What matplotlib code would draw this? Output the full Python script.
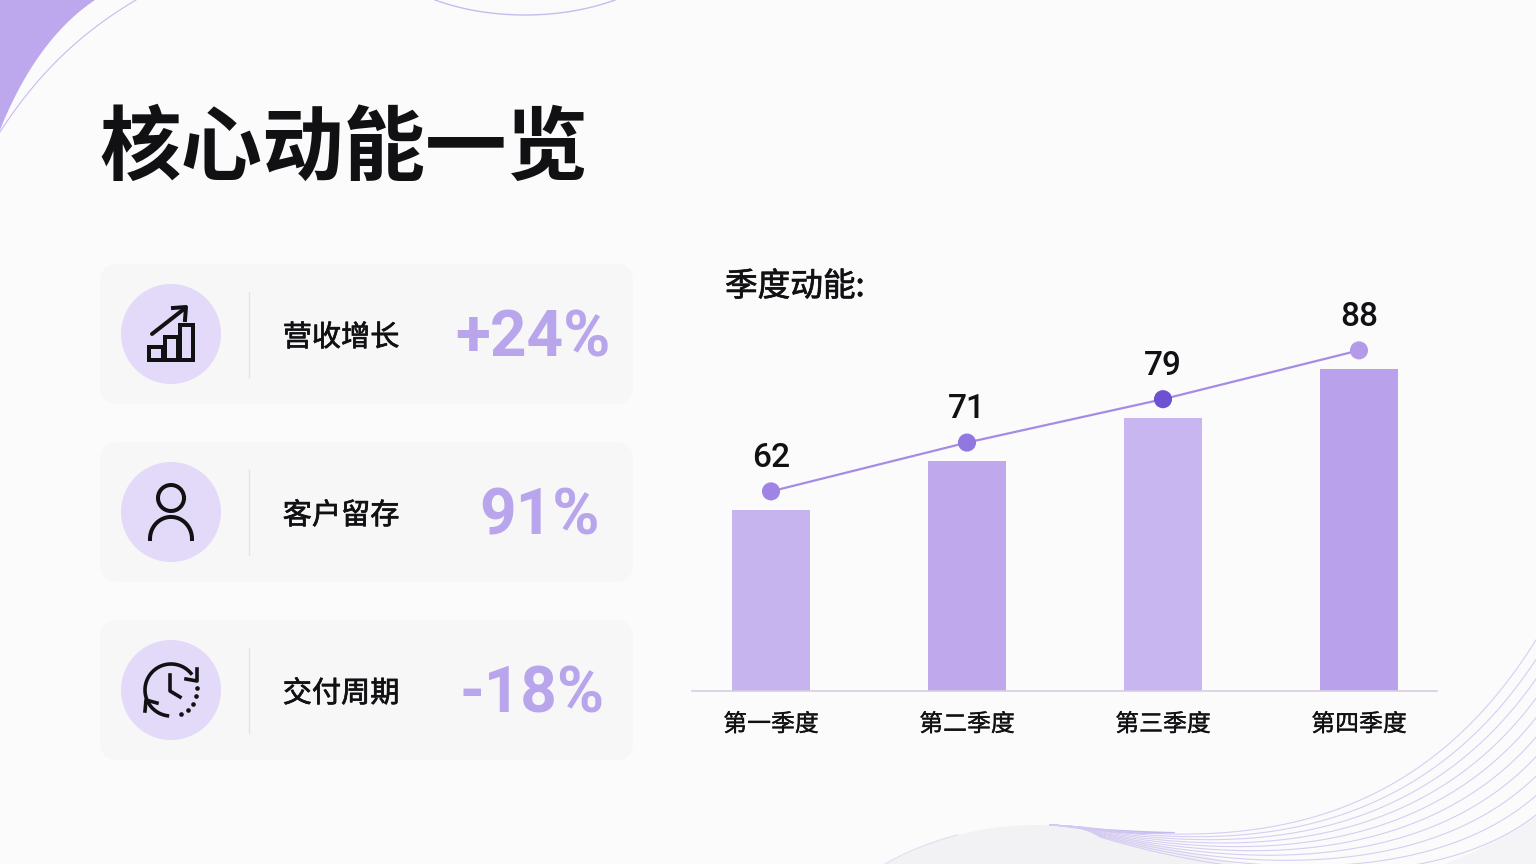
import numpy as np
import matplotlib
matplotlib.use('Agg')
import matplotlib.pyplot as plt
import matplotlib.patheffects as pe
from matplotlib.patches import FancyBboxPatch, Circle, Rectangle
from matplotlib.transforms import ScaledTranslation

plt.rcParams['font.family'] = ['Noto Sans CJK SC', 'DejaVu Sans']

# chart data
quarters = ['第一季度', '第二季度', '第三季度', '第四季度']
momentum = [62, 71, 79, 88]
bar_colors = ['#C6B4EF', '#BFA9EC', '#C7B6F0', '#B9A1EB']
dot_colors = ['#9F84E6', '#9078E0', '#6E50D2', '#B49BE9']

# cards
card_labels = ['营收增长', '客户留存', '交付周期']
card_values = ['+24%', '91%', '-18%']
value_centers = [533, 539, 532]
card_tops = [264, 442, 620]

title = '核心动能一览'
chart_title = '季度动能:'

PURPLE = '#B9A5EC'
INK = '#111114'
px = 0.72  # one pixel in points at dpi 100
heavier = [pe.withStroke(linewidth=0.5, foreground=INK)]
slightly = [pe.withStroke(linewidth=0.25, foreground=INK)]

fig = plt.figure(figsize=(15.36, 8.64), dpi=100, facecolor='#FBFBFC')

# background layer in pixel coordinates
bg = fig.add_axes([0, 0, 1, 1])
bg.set_xlim(0, 1536)
bg.set_ylim(864, 0)
bg.axis('off')


def bezier(p0, p1, p2, p3, n=80):
    t = np.linspace(0, 1, n)[:, None]
    p0, p1, p2, p3 = map(np.array, (p0, p1, p2, p3))
    return (1-t)**3*p0 + 3*(1-t)**2*t*p1 + 3*(1-t)*t**2*p2 + t**3*p3


def arc(cx, cy, r, a0, a1, n=80):
    a = np.radians(np.linspace(a0, a1, n))
    return cx + r*np.cos(a), cy - r*np.sin(a)


# corner decoration, top left
edge = bezier((0, 130), (20, 80), (50, 30), (95, 0))
corner = np.vstack([[0, 0], edge])
bg.fill(corner[:, 0], corner[:, 1], color='#BDA8EE', lw=0)
curve = bezier((0, 132), (40, 70), (85, 30), (136, 0))
bg.plot(curve[:, 0], curve[:, 1], color='#C9BAF0', lw=0.8)
curve = bezier((435, 0), (490, 20), (560, 20), (615, 0))
bg.plot(curve[:, 0], curve[:, 1], color='#C9BAF0', lw=1)

# corner decoration, bottom right
hill = np.vstack([bezier((885, 864), (930, 838), (985, 825), (1039, 825)),
                  bezier((1039, 825), (1080, 826), (1130, 838), (1236, 864))])
bg.fill(hill[:, 0], hill[:, 1], color='#F2F2F4', lw=0)
low = np.vstack([[1536, 864], bezier((1445, 864), (1480, 850), (1510, 835), (1536, 817))])
bg.fill(low[:, 0], low[:, 1], color='#F4F4F6', lw=0)
bg.plot(hill[:40, 0], hill[:40, 1], color='#E2DCF4', lw=0.8)
wedge = np.vstack([bezier((1050, 825), (1090, 828), (1130, 831), (1175, 832)),
                   bezier((1175, 833), (1140, 836), (1100, 832), (1050, 825))])
bg.fill(wedge[:, 0], wedge[:, 1], color='#C9B8F1', lw=0)

n_lines = 10
for k in range(n_lines):
    s = k/(n_lines-1)
    start = np.array((1100, 829 + 8*s))
    c1 = np.array((1280 - 20*s, 850 + 35*s))
    c2 = np.array((1430 + 10*s, 810 + 80*s))
    end = np.array((1536, 640 + 175*s))
    line = np.vstack([bezier((1050, 825), (1070, 826), (1085, 827), start, n=20),
                      bezier(start, c1, c2, end)])
    bg.plot(line[:, 0], line[:, 1], color='#D3C9F1', lw=0.8, alpha=0.9)

# metric cards
for top, label, value, vx in zip(card_tops, card_labels, card_values, value_centers):
    bg.add_patch(FancyBboxPatch((100+18, top+18), 533-36, 140-36,
                                boxstyle='round,pad=18,rounding_size=18',
                                fc='#F7F7F8', ec='none'))
    cy = top + 70
    bg.add_patch(Circle((171, cy), 50, fc='#E2DAF8', ec='none'))
    bg.plot([249, 249], [cy-42, cy+43], color='#E3E3E7', lw=1)
    bg.text(341, cy+4, label, ha='center', va='center', fontsize=21, color=INK,
            path_effects=heavier)
    bg.text(vx, cy+5, value, ha='center', va='center', fontsize=46, color=PURPLE,
            family=['Roboto', 'DejaVu Sans'], fontweight='bold')

bg.text(99, 150, title, ha='left', va='center', fontsize=58.7, color=INK, fontweight='black')
bg.text(725, 287, chart_title, ha='left', va='center', fontsize=23.5, color=INK,
        path_effects=heavier)

# icon: rising bars
for x0, x1, y0 in [(149, 163, 347), (165, 178, 337), (180, 193, 325)]:
    bg.add_patch(Rectangle((x0, y0), x1-x0, 360-y0, fc='none', ec=INK, lw=4*px))
bg.plot([152, 184], [334, 309], color=INK, lw=4*px, solid_capstyle='round')
bg.plot([173, 186, 185], [308, 307, 320], color=INK, lw=4*px)

# icon: person
x, y = arc(171, 498, 13, 0, 360)
bg.plot(x, y, color=INK, lw=4*px)
x, y = arc(171, 539, 21, 0, 180)
bg.plot(x, 539 + (y-539)*1.05, color=INK, lw=4*px)

# icon: clock with return arrow
x, y = arc(171, 690, 26, 40, 262)
bg.plot(x, y, color=INK, lw=3.6*px)
dot_a = np.radians([-68, -50, -32, -14, 4])
bg.scatter(171+26*np.cos(dot_a), 690-26*np.sin(dot_a), s=11, color=INK, lw=0)
bg.plot([170, 170, 180], [675, 691, 697], color=INK, lw=3.6*px)
bg.plot([186, 197, 197], [679, 681, 669], color=INK, lw=3.6*px)
bg.plot([145, 146, 157], [711, 700, 703], color=INK, lw=3.6*px)

# chart area: base at y=691, one value unit is 5.42 px
ax = fig.add_axes([692/1536, 1-691/864, 745/1536, 391/864])
ax.patch.set_alpha(0)
xs = np.arange(len(quarters))
ax.bar(xs, momentum, width=0.393, color=bar_colors, zorder=2)
ax.set_xlim(-0.403, 3.398)
ax.set_ylim(28.6, 100.7)
ax.set_yticks([])
ax.set_xticks(xs, quarters, fontsize=17.2, color=INK, path_effects=slightly)
ax.tick_params(axis='x', length=0, pad=16)
for side in ['top', 'left', 'right']:
    ax.spines[side].set_visible(False)
ax.spines['bottom'].set_color('#D6CEE4')
ax.spines['bottom'].set_linewidth(1.2)

# trend line floats a fixed distance above the bars
lift = ax.transData + ScaledTranslation(0, 18.5/100, fig.dpi_scale_trans)
ax.plot(xs, momentum, color='#A48CE4', lw=1.6, transform=lift, zorder=3)
ax.scatter(xs, momentum, s=170, c=dot_colors, lw=0, transform=lift, zorder=4)
for i, v in zip(xs, momentum):
    ax.annotate(str(v), (i, v), xytext=(0, 52*px), textcoords='offset points',
                ha='center', va='center', fontsize=24, color=INK,
                family=['Roboto', 'DejaVu Sans'], fontweight='medium')

fig.savefig('out.png', dpi=100, facecolor=fig.get_facecolor())
